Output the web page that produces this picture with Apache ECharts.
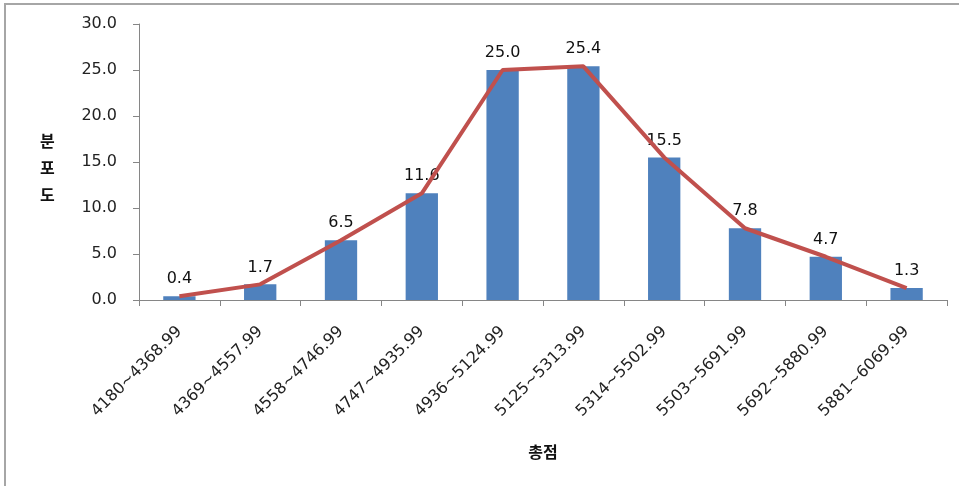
<!DOCTYPE html>
<html>
<head>
<meta charset="utf-8">
<script src="https://cdn.jsdelivr.net/npm/echarts@6/dist/echarts.min.js"></script>
<style>
  html, body { margin: 0; padding: 0; background: #fff; }
  #chart { width: 959px; height: 486px; }
</style>
</head>
<body>
<div id="chart"></div>
<script>
// Score bands (총점) and share of each band (분포도, %)
const categories = [
  '4180~4368.99', '4369~4557.99', '4558~4746.99', '4747~4935.99', '4936~5124.99',
  '5125~5313.99', '5314~5502.99', '5503~5691.99', '5692~5880.99', '5881~6069.99'
];
const shares = [0.4, 1.7, 6.5, 11.6, 25.0, 25.4, 15.5, 7.8, 4.7, 1.3];
const yTicks = { min: 0, max: 30, step: 5 };
const yTitle = '분\n포\n도';
const xTitle = '총점';

const FONT = '"DejaVu Sans", Verdana, sans-serif';
const KR_FONT = '"Noto Sans CJK KR", sans-serif';
const AXIS_GRAY = '#868686';

const chart = echarts.init(document.getElementById('chart'), null, { renderer: 'canvas' });

chart.setOption({
  animation: false,
  backgroundColor: '#ffffff',
  textStyle: { fontFamily: FONT },
  grid: { left: 139, right: 12, top: 24, bottom: 186, containLabel: false },
  graphic: [
    {
      // outer frame of the chart area
      type: 'rect',
      shape: { x: 5, y: 4, width: 980, height: 520 },
      style: { fill: 'none', stroke: '#a6a6a6', lineWidth: 2 },
      silent: true
    },
    {
      // vertical title of the value axis, one upright character per line
      type: 'text',
      left: 40,
      top: 127,
      style: {
        text: yTitle,
        font: 'bold 16px ' + KR_FONT,
        fill: '#111',
        lineHeight: 27,
        align: 'center'
      },
      silent: true
    }
  ],
  xAxis: {
    type: 'category',
    data: categories,
    name: xTitle,
    nameLocation: 'middle',
    nameGap: 144,
    nameTextStyle: { fontFamily: KR_FONT, fontSize: 16, fontWeight: 'bold', color: '#111' },
    axisLine: { lineStyle: { color: AXIS_GRAY, width: 1 } },
    axisTick: { show: true, length: 6, lineStyle: { color: AXIS_GRAY } },
    axisLabel: { rotate: 45, margin: 29, fontSize: 16, color: '#222', fontFamily: FONT, interval: 0 },
    splitLine: { show: false }
  },
  yAxis: {
    type: 'value',
    min: yTicks.min,
    max: yTicks.max,
    interval: yTicks.step,
    axisLine: { show: true, lineStyle: { color: AXIS_GRAY, width: 1 } },
    axisTick: { show: true, length: 6, lineStyle: { color: AXIS_GRAY } },
    axisLabel: { margin: 22, fontSize: 16, color: '#222', fontFamily: FONT, formatter: v => v.toFixed(1) },
    splitLine: { show: false }
  },
  series: [
    {
      type: 'bar',
      data: shares,
      barWidth: '40%',
      itemStyle: { color: '#4f81bd' },
      label: {
        show: true, position: 'top', distance: 9,
        fontSize: 16, color: '#111', fontFamily: FONT,
        formatter: p => p.value.toFixed(1)
      },
      z: 2
    },
    {
      type: 'line',
      data: shares,
      symbol: 'none',
      lineStyle: { color: '#c0504d', width: 4 },
      itemStyle: { color: '#c0504d' },
      z: 3
    }
  ]
});
</script>
</body>
</html>
